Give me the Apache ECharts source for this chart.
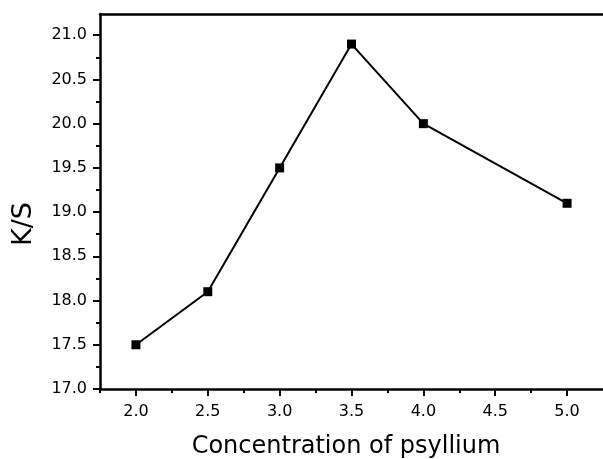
<!DOCTYPE html>
<html><head><meta charset="utf-8">
<script src="https://cdn.jsdelivr.net/npm/echarts@6/dist/echarts.min.js"></script>
<style>html,body{margin:0;padding:0;background:#fff}#c{width:603px;height:459px}</style>
</head><body><div id="c"></div>
<script>
const concentrations = [2.0, 2.5, 3.0, 3.5, 4.0, 5.0];
const ksValues = [17.5, 18.1, 19.5, 20.9, 20.0, 19.1];
const xTicks = [2.0, 2.5, 3.0, 3.5, 4.0, 4.5, 5.0];
const xMinorTicks = [1.75, 2.25, 2.75, 3.25, 3.75, 4.25, 4.75];
const yTicks = [17.0, 17.5, 18.0, 18.5, 19.0, 19.5, 20.0, 20.5, 21.0];
const yMinorTicks = [17.25, 17.75, 18.25, 18.75, 19.25, 19.75, 20.25, 20.75];
const xTitle = 'Concentration of psyllium';
const yTitle = 'K/S';

const chart = echarts.init(document.getElementById('c'));
const font = 'DejaVu Sans, sans-serif';
const X_MIN = 1.75, X_MAX = 5.25, Y_MIN = 17.0, Y_MAX = 21.24;
const axisLine = {show: true, lineStyle: {color: '#000', width: 2.5}};
chart.setOption({
  animation: false,
  backgroundColor: '#fff',
  grid: {left: 100, right: -10, top: 14, bottom: 70},
  xAxis: [{
    type: 'value', min: X_MIN, max: X_MAX,
    axisLine: axisLine,
    axisTick: {show: true, inside: false, length: 7, lineStyle: {color: '#000', width: 2}, customValues: xTicks},
    axisLabel: {fontFamily: font, fontSize: 16, color: '#000', margin: 15,
      customValues: xTicks, formatter: v => v.toFixed(1)},
    splitLine: {show: false}
  }, {
    type: 'value', position: 'bottom', min: X_MIN, max: X_MAX,
    axisLine: {show: false},
    axisTick: {show: true, inside: false, length: 4, lineStyle: {color: '#000', width: 2}, customValues: xMinorTicks},
    axisLabel: {show: false}, splitLine: {show: false}
  }, {
    type: 'value', position: 'top', min: X_MIN, max: X_MAX,
    axisLine: axisLine,
    axisTick: {show: false}, axisLabel: {show: false}, splitLine: {show: false}
  }],
  yAxis: [{
    type: 'value', min: Y_MIN, max: Y_MAX,
    axisLine: axisLine,
    axisTick: {show: true, inside: false, length: 7, lineStyle: {color: '#000', width: 2}, customValues: yTicks},
    axisLabel: {fontFamily: font, fontSize: 16, color: '#000', margin: 13,
      customValues: yTicks, formatter: v => v.toFixed(1)},
    splitLine: {show: false}
  }, {
    type: 'value', position: 'left', min: Y_MIN, max: Y_MAX,
    axisLine: {show: false},
    axisTick: {show: true, inside: false, length: 4, lineStyle: {color: '#000', width: 2}, customValues: yMinorTicks},
    axisLabel: {show: false}, splitLine: {show: false}
  }],
  graphic: [{
    type: 'text', x: 24, y: 224, rotation: Math.PI / 2,
    style: {text: yTitle, fontFamily: font, fontSize: 27, fill: '#000', align: 'center', verticalAlign: 'middle'}
  }, {
    type: 'text', x: 346, y: 447,
    style: {text: xTitle, fontFamily: font, fontSize: 24, fill: '#000', align: 'center', verticalAlign: 'middle'}
  }],
  series: [{
    type: 'line', xAxisIndex: 0, yAxisIndex: 0,
    data: concentrations.map((x, i) => [x, ksValues[i]]),
    symbol: 'rect', symbolSize: 9,
    itemStyle: {color: '#000'},
    lineStyle: {color: '#000', width: 2}
  }]
});
</script></body></html>
